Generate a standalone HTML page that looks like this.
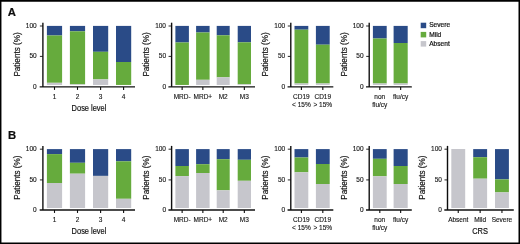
<!DOCTYPE html>
<html><head><meta charset="utf-8"><title>Figure</title>
<style>
html,body{margin:0;padding:0;background:#fff}
svg{display:block}
text.s{stroke:#111;stroke-width:0.12px}
text.m{stroke:#111;stroke-width:0.2px}
text.b{stroke:#111;stroke-width:0.18px}
text{font-family:"Liberation Sans",sans-serif;fill:#111}
</style></head><body>
<svg width="520" height="244" viewBox="0 0 520 244">
<defs><filter id="soft" x="0" y="0" width="520" height="244" filterUnits="userSpaceOnUse"><feGaussianBlur stdDeviation="0.3"/></filter></defs>
<rect width="520" height="244" fill="#fff"/>
<g filter="url(#soft)">
<text x="7.8" y="16.1" font-size="11.3" font-weight="bold" class="m">A</text>
<text x="7.9" y="139.1" font-size="11.3" font-weight="bold" class="m">B</text>
<rect x="46.9" y="25.9" width="15.2" height="9.60" fill="#2a4c87"/>
<rect x="46.9" y="35.5" width="15.2" height="47.30" fill="#66ab3c"/>
<rect x="46.9" y="82.8" width="15.2" height="2.15" fill="#c6c6cc"/>
<rect x="69.9" y="25.9" width="15.2" height="5.40" fill="#2a4c87"/>
<rect x="69.9" y="31.3" width="15.2" height="53.00" fill="#66ab3c"/>
<rect x="69.9" y="84.3" width="15.2" height="0.65" fill="#c6c6cc"/>
<rect x="93" y="25.9" width="15.2" height="25.90" fill="#2a4c87"/>
<rect x="93" y="51.8" width="15.2" height="27.60" fill="#66ab3c"/>
<rect x="93" y="79.4" width="15.2" height="5.55" fill="#c6c6cc"/>
<rect x="116" y="25.9" width="15.2" height="36.10" fill="#2a4c87"/>
<rect x="116" y="62" width="15.2" height="22.95" fill="#66ab3c"/>
<path d="M42.9 22.7V86.9" stroke="#111" stroke-width="1.4" fill="none"/>
<path d="M39.699999999999996 86.9H135" stroke="#111" stroke-width="1.4" fill="none"/>
<path d="M39.9 26.0H42.9" stroke="#111" stroke-width="0.9" fill="none"/>
<path d="M39.9 56.4H42.9" stroke="#111" stroke-width="0.9" fill="none"/>
<text x="36.699999999999996" y="28.00" font-size="6.5" text-anchor="end" class="s">100</text>
<text x="36.699999999999996" y="58.40" font-size="6.5" text-anchor="end" class="s">50</text>
<text x="36.699999999999996" y="88.90" font-size="6.5" text-anchor="end" class="s">0</text>
<path d="M54.5 86.9V89.9" stroke="#111" stroke-width="1.1" fill="none"/>
<text x="54.5" y="99.10" font-size="6.5" text-anchor="middle" class="s">1</text>
<path d="M77.5 86.9V89.9" stroke="#111" stroke-width="1.1" fill="none"/>
<text x="77.5" y="99.10" font-size="6.5" text-anchor="middle" class="s">2</text>
<path d="M100.6 86.9V89.9" stroke="#111" stroke-width="1.1" fill="none"/>
<text x="100.6" y="99.10" font-size="6.5" text-anchor="middle" class="s">3</text>
<path d="M123.6 86.9V89.9" stroke="#111" stroke-width="1.1" fill="none"/>
<text x="123.6" y="99.10" font-size="6.5" text-anchor="middle" class="s">4</text>
<text transform="translate(20.4 54.50000000000001) rotate(-90) scale(0.98 1)" font-size="8.3" text-anchor="middle" class="b">Patients (%)</text>
<text transform="translate(89 111.1) scale(0.9 1)" font-size="8.3" text-anchor="middle" class="b">Dose level</text>
<rect x="175.4" y="25.9" width="13.5" height="16.60" fill="#2a4c87"/>
<rect x="175.4" y="42.5" width="13.5" height="42.45" fill="#66ab3c"/>
<rect x="196.1" y="25.9" width="13.5" height="6.60" fill="#2a4c87"/>
<rect x="196.1" y="32.5" width="13.5" height="47.30" fill="#66ab3c"/>
<rect x="196.1" y="79.8" width="13.5" height="5.15" fill="#c6c6cc"/>
<rect x="216.7" y="25.9" width="13.0" height="9.40" fill="#2a4c87"/>
<rect x="216.7" y="35.3" width="13.0" height="42.00" fill="#66ab3c"/>
<rect x="216.7" y="77.3" width="13.0" height="7.65" fill="#c6c6cc"/>
<rect x="237.7" y="25.9" width="13.3" height="16.40" fill="#2a4c87"/>
<rect x="237.7" y="42.3" width="13.3" height="42.00" fill="#66ab3c"/>
<rect x="237.7" y="84.3" width="13.3" height="0.65" fill="#c6c6cc"/>
<path d="M171.6 22.7V86.9" stroke="#111" stroke-width="1.4" fill="none"/>
<path d="M168.4 86.9H255" stroke="#111" stroke-width="1.4" fill="none"/>
<path d="M168.6 26.0H171.6" stroke="#111" stroke-width="0.9" fill="none"/>
<path d="M168.6 56.4H171.6" stroke="#111" stroke-width="0.9" fill="none"/>
<text x="166.0" y="28.00" font-size="6.5" text-anchor="end" class="s">100</text>
<text x="166.0" y="58.40" font-size="6.5" text-anchor="end" class="s">50</text>
<text x="166.0" y="88.90" font-size="6.5" text-anchor="end" class="s">0</text>
<path d="M182.15 86.9V89.9" stroke="#111" stroke-width="1.1" fill="none"/>
<text x="182.15" y="99.10" font-size="6.5" text-anchor="middle" class="s">MRD-</text>
<path d="M202.85 86.9V89.9" stroke="#111" stroke-width="1.1" fill="none"/>
<text x="202.85" y="99.10" font-size="6.5" text-anchor="middle" class="s">MRD+</text>
<path d="M223.2 86.9V89.9" stroke="#111" stroke-width="1.1" fill="none"/>
<text x="223.2" y="99.10" font-size="6.5" text-anchor="middle" class="s">M2</text>
<path d="M244.35 86.9V89.9" stroke="#111" stroke-width="1.1" fill="none"/>
<text x="244.35" y="99.10" font-size="6.5" text-anchor="middle" class="s">M3</text>
<text transform="translate(148.70000000000002 54.50000000000001) rotate(-90) scale(0.98 1)" font-size="8.3" text-anchor="middle" class="b">Patients (%)</text>
<rect x="294.5" y="25.9" width="13.8" height="3.80" fill="#2a4c87"/>
<rect x="294.5" y="29.7" width="13.8" height="53.80" fill="#66ab3c"/>
<rect x="294.5" y="83.5" width="13.8" height="1.45" fill="#c6c6cc"/>
<rect x="315.9" y="25.9" width="13.8" height="18.80" fill="#2a4c87"/>
<rect x="315.9" y="44.7" width="13.8" height="38.80" fill="#66ab3c"/>
<rect x="315.9" y="83.5" width="13.8" height="1.45" fill="#c6c6cc"/>
<path d="M290.8 22.7V86.9" stroke="#111" stroke-width="1.4" fill="none"/>
<path d="M287.6 86.9H333.3" stroke="#111" stroke-width="1.4" fill="none"/>
<path d="M287.8 26.0H290.8" stroke="#111" stroke-width="0.9" fill="none"/>
<path d="M287.8 56.4H290.8" stroke="#111" stroke-width="0.9" fill="none"/>
<text x="285.2" y="28.00" font-size="6.5" text-anchor="end" class="s">100</text>
<text x="285.2" y="58.40" font-size="6.5" text-anchor="end" class="s">50</text>
<text x="285.2" y="88.90" font-size="6.5" text-anchor="end" class="s">0</text>
<path d="M301.4 86.9V89.9" stroke="#111" stroke-width="1.1" fill="none"/>
<text x="301.4" y="99.10" font-size="6.5" text-anchor="middle" class="s">CD19</text>
<text x="301.4" y="107.30" font-size="6.5" text-anchor="middle" class="s">&lt; 15%</text>
<path d="M322.79999999999995 86.9V89.9" stroke="#111" stroke-width="1.1" fill="none"/>
<text x="322.79999999999995" y="99.10" font-size="6.5" text-anchor="middle" class="s">CD19</text>
<text x="322.79999999999995" y="107.30" font-size="6.5" text-anchor="middle" class="s">&gt; 15%</text>
<text transform="translate(268.4 54.50000000000001) rotate(-90) scale(0.98 1)" font-size="8.3" text-anchor="middle" class="b">Patients (%)</text>
<rect x="372.9" y="25.9" width="13.8" height="12.60" fill="#2a4c87"/>
<rect x="372.9" y="38.5" width="13.8" height="45.00" fill="#66ab3c"/>
<rect x="372.9" y="83.5" width="13.8" height="1.45" fill="#c6c6cc"/>
<rect x="393.6" y="25.9" width="14.1" height="17.10" fill="#2a4c87"/>
<rect x="393.6" y="43" width="14.1" height="40.50" fill="#66ab3c"/>
<rect x="393.6" y="83.5" width="14.1" height="1.45" fill="#c6c6cc"/>
<path d="M369.2 22.7V86.9" stroke="#111" stroke-width="1.4" fill="none"/>
<path d="M366.0 86.9H411.8" stroke="#111" stroke-width="1.4" fill="none"/>
<path d="M366.2 26.0H369.2" stroke="#111" stroke-width="0.9" fill="none"/>
<path d="M366.2 56.4H369.2" stroke="#111" stroke-width="0.9" fill="none"/>
<text x="363.59999999999997" y="28.00" font-size="6.5" text-anchor="end" class="s">100</text>
<text x="363.59999999999997" y="58.40" font-size="6.5" text-anchor="end" class="s">50</text>
<text x="363.59999999999997" y="88.90" font-size="6.5" text-anchor="end" class="s">0</text>
<path d="M379.79999999999995 86.9V89.9" stroke="#111" stroke-width="1.1" fill="none"/>
<text x="379.79999999999995" y="99.10" font-size="6.5" text-anchor="middle" class="s">non</text>
<text x="379.79999999999995" y="107.30" font-size="6.5" text-anchor="middle" class="s">flu/cy</text>
<path d="M400.65000000000003 86.9V89.9" stroke="#111" stroke-width="1.1" fill="none"/>
<text x="400.65000000000003" y="99.10" font-size="6.5" text-anchor="middle" class="s">flu/cy</text>
<text transform="translate(346.9 54.50000000000001) rotate(-90) scale(0.98 1)" font-size="8.3" text-anchor="middle" class="b">Patients (%)</text>
<rect x="420.7" y="22.70" width="5.5" height="5.5" fill="#2a4c87"/>
<text x="429.2" y="27.40" font-size="6.6" class="m">Severe</text>
<rect x="420.7" y="31.90" width="5.5" height="5.5" fill="#66ab3c"/>
<text x="429.2" y="36.60" font-size="6.6" class="m">Mild</text>
<rect x="420.7" y="41.10" width="5.5" height="5.5" fill="#c6c6cc"/>
<text x="429.2" y="45.80" font-size="6.6" class="m">Absent</text>
<rect x="46.9" y="149.1" width="15.2" height="5.00" fill="#2a4c87"/>
<rect x="46.9" y="154.1" width="15.2" height="28.90" fill="#66ab3c"/>
<rect x="46.9" y="183" width="15.2" height="25.00" fill="#c6c6cc"/>
<rect x="69.9" y="149.1" width="15.2" height="13.70" fill="#2a4c87"/>
<rect x="69.9" y="162.8" width="15.2" height="10.90" fill="#66ab3c"/>
<rect x="69.9" y="173.7" width="15.2" height="34.30" fill="#c6c6cc"/>
<rect x="93" y="149.1" width="15.2" height="26.80" fill="#2a4c87"/>
<rect x="93" y="175.9" width="15.2" height="32.10" fill="#c6c6cc"/>
<rect x="116" y="149.1" width="15.2" height="12.20" fill="#2a4c87"/>
<rect x="116" y="161.3" width="15.2" height="37.50" fill="#66ab3c"/>
<rect x="116" y="198.8" width="15.2" height="9.20" fill="#c6c6cc"/>
<path d="M42.9 145.9V209.95" stroke="#111" stroke-width="1.4" fill="none"/>
<path d="M39.699999999999996 209.95H135" stroke="#111" stroke-width="1.4" fill="none"/>
<path d="M39.9 149.2H42.9" stroke="#111" stroke-width="0.9" fill="none"/>
<path d="M39.9 179.9H42.9" stroke="#111" stroke-width="0.9" fill="none"/>
<text x="36.699999999999996" y="151.20" font-size="6.5" text-anchor="end" class="s">100</text>
<text x="36.699999999999996" y="181.90" font-size="6.5" text-anchor="end" class="s">50</text>
<text x="36.699999999999996" y="211.95" font-size="6.5" text-anchor="end" class="s">0</text>
<path d="M54.5 209.95V212.95" stroke="#111" stroke-width="1.1" fill="none"/>
<text x="54.5" y="222.15" font-size="6.5" text-anchor="middle" class="s">1</text>
<path d="M77.5 209.95V212.95" stroke="#111" stroke-width="1.1" fill="none"/>
<text x="77.5" y="222.15" font-size="6.5" text-anchor="middle" class="s">2</text>
<path d="M100.6 209.95V212.95" stroke="#111" stroke-width="1.1" fill="none"/>
<text x="100.6" y="222.15" font-size="6.5" text-anchor="middle" class="s">3</text>
<path d="M123.6 209.95V212.95" stroke="#111" stroke-width="1.1" fill="none"/>
<text x="123.6" y="222.15" font-size="6.5" text-anchor="middle" class="s">4</text>
<text transform="translate(20.4 177.62499999999997) rotate(-90) scale(0.98 1)" font-size="8.3" text-anchor="middle" class="b">Patients (%)</text>
<text transform="translate(89 234.1) scale(0.9 1)" font-size="8.3" text-anchor="middle" class="b">Dose level</text>
<rect x="175.4" y="149.1" width="13.5" height="16.90" fill="#2a4c87"/>
<rect x="175.4" y="166" width="13.5" height="10.10" fill="#66ab3c"/>
<rect x="175.4" y="176.1" width="13.5" height="31.90" fill="#c6c6cc"/>
<rect x="196.1" y="149.1" width="13.5" height="15.10" fill="#2a4c87"/>
<rect x="196.1" y="164.2" width="13.5" height="8.80" fill="#66ab3c"/>
<rect x="196.1" y="173" width="13.5" height="35.00" fill="#c6c6cc"/>
<rect x="216.7" y="149.1" width="13.0" height="10.10" fill="#2a4c87"/>
<rect x="216.7" y="159.2" width="13.0" height="31.10" fill="#66ab3c"/>
<rect x="216.7" y="190.3" width="13.0" height="17.70" fill="#c6c6cc"/>
<rect x="237.7" y="149.1" width="13.3" height="10.70" fill="#2a4c87"/>
<rect x="237.7" y="159.8" width="13.3" height="21.00" fill="#66ab3c"/>
<rect x="237.7" y="180.8" width="13.3" height="27.20" fill="#c6c6cc"/>
<path d="M171.6 145.9V209.95" stroke="#111" stroke-width="1.4" fill="none"/>
<path d="M168.4 209.95H255" stroke="#111" stroke-width="1.4" fill="none"/>
<path d="M168.6 149.2H171.6" stroke="#111" stroke-width="0.9" fill="none"/>
<path d="M168.6 179.9H171.6" stroke="#111" stroke-width="0.9" fill="none"/>
<text x="166.0" y="151.20" font-size="6.5" text-anchor="end" class="s">100</text>
<text x="166.0" y="181.90" font-size="6.5" text-anchor="end" class="s">50</text>
<text x="166.0" y="211.95" font-size="6.5" text-anchor="end" class="s">0</text>
<path d="M182.15 209.95V212.95" stroke="#111" stroke-width="1.1" fill="none"/>
<text x="182.15" y="222.15" font-size="6.5" text-anchor="middle" class="s">MRD-</text>
<path d="M202.85 209.95V212.95" stroke="#111" stroke-width="1.1" fill="none"/>
<text x="202.85" y="222.15" font-size="6.5" text-anchor="middle" class="s">MRD+</text>
<path d="M223.2 209.95V212.95" stroke="#111" stroke-width="1.1" fill="none"/>
<text x="223.2" y="222.15" font-size="6.5" text-anchor="middle" class="s">M2</text>
<path d="M244.35 209.95V212.95" stroke="#111" stroke-width="1.1" fill="none"/>
<text x="244.35" y="222.15" font-size="6.5" text-anchor="middle" class="s">M3</text>
<text transform="translate(148.70000000000002 177.62499999999997) rotate(-90) scale(0.98 1)" font-size="8.3" text-anchor="middle" class="b">Patients (%)</text>
<rect x="294.5" y="149.1" width="13.8" height="8.40" fill="#2a4c87"/>
<rect x="294.5" y="157.5" width="13.8" height="14.80" fill="#66ab3c"/>
<rect x="294.5" y="172.3" width="13.8" height="35.70" fill="#c6c6cc"/>
<rect x="315.9" y="149.1" width="13.8" height="14.90" fill="#2a4c87"/>
<rect x="315.9" y="164" width="13.8" height="20.00" fill="#66ab3c"/>
<rect x="315.9" y="184" width="13.8" height="24.00" fill="#c6c6cc"/>
<path d="M290.8 145.9V209.95" stroke="#111" stroke-width="1.4" fill="none"/>
<path d="M287.6 209.95H333.3" stroke="#111" stroke-width="1.4" fill="none"/>
<path d="M287.8 149.2H290.8" stroke="#111" stroke-width="0.9" fill="none"/>
<path d="M287.8 179.9H290.8" stroke="#111" stroke-width="0.9" fill="none"/>
<text x="285.2" y="151.20" font-size="6.5" text-anchor="end" class="s">100</text>
<text x="285.2" y="181.90" font-size="6.5" text-anchor="end" class="s">50</text>
<text x="285.2" y="211.95" font-size="6.5" text-anchor="end" class="s">0</text>
<path d="M301.4 209.95V212.95" stroke="#111" stroke-width="1.1" fill="none"/>
<text x="301.4" y="222.15" font-size="6.5" text-anchor="middle" class="s">CD19</text>
<text x="301.4" y="230.35" font-size="6.5" text-anchor="middle" class="s">&lt; 15%</text>
<path d="M322.79999999999995 209.95V212.95" stroke="#111" stroke-width="1.1" fill="none"/>
<text x="322.79999999999995" y="222.15" font-size="6.5" text-anchor="middle" class="s">CD19</text>
<text x="322.79999999999995" y="230.35" font-size="6.5" text-anchor="middle" class="s">&gt; 15%</text>
<text transform="translate(268.4 177.62499999999997) rotate(-90) scale(0.98 1)" font-size="8.3" text-anchor="middle" class="b">Patients (%)</text>
<rect x="372.9" y="149.1" width="13.8" height="9.70" fill="#2a4c87"/>
<rect x="372.9" y="158.8" width="13.8" height="17.50" fill="#66ab3c"/>
<rect x="372.9" y="176.3" width="13.8" height="31.70" fill="#c6c6cc"/>
<rect x="393.6" y="149.1" width="14.1" height="16.90" fill="#2a4c87"/>
<rect x="393.6" y="166" width="14.1" height="18.00" fill="#66ab3c"/>
<rect x="393.6" y="184" width="14.1" height="24.00" fill="#c6c6cc"/>
<path d="M369.2 145.9V209.95" stroke="#111" stroke-width="1.4" fill="none"/>
<path d="M366.0 209.95H411.8" stroke="#111" stroke-width="1.4" fill="none"/>
<path d="M366.2 149.2H369.2" stroke="#111" stroke-width="0.9" fill="none"/>
<path d="M366.2 179.9H369.2" stroke="#111" stroke-width="0.9" fill="none"/>
<text x="363.59999999999997" y="151.20" font-size="6.5" text-anchor="end" class="s">100</text>
<text x="363.59999999999997" y="181.90" font-size="6.5" text-anchor="end" class="s">50</text>
<text x="363.59999999999997" y="211.95" font-size="6.5" text-anchor="end" class="s">0</text>
<path d="M379.79999999999995 209.95V212.95" stroke="#111" stroke-width="1.1" fill="none"/>
<text x="379.79999999999995" y="222.15" font-size="6.5" text-anchor="middle" class="s">non</text>
<text x="379.79999999999995" y="230.35" font-size="6.5" text-anchor="middle" class="s">flu/cy</text>
<path d="M400.65000000000003 209.95V212.95" stroke="#111" stroke-width="1.1" fill="none"/>
<text x="400.65000000000003" y="222.15" font-size="6.5" text-anchor="middle" class="s">flu/cy</text>
<text transform="translate(346.9 177.62499999999997) rotate(-90) scale(0.98 1)" font-size="8.3" text-anchor="middle" class="b">Patients (%)</text>
<rect x="451.3" y="149" width="13.9" height="59.00" fill="#c6c6cc"/>
<rect x="473.2" y="149.1" width="13.9" height="8.10" fill="#2a4c87"/>
<rect x="473.2" y="157.2" width="13.9" height="21.50" fill="#66ab3c"/>
<rect x="473.2" y="178.7" width="13.9" height="29.30" fill="#c6c6cc"/>
<rect x="495" y="149.1" width="13.9" height="30.30" fill="#2a4c87"/>
<rect x="495" y="179.4" width="13.9" height="13.00" fill="#66ab3c"/>
<rect x="495" y="192.4" width="13.9" height="15.60" fill="#c6c6cc"/>
<path d="M447.5 145.9V209.95" stroke="#111" stroke-width="1.4" fill="none"/>
<path d="M444.3 209.95H513.8" stroke="#111" stroke-width="1.4" fill="none"/>
<path d="M444.5 149.2H447.5" stroke="#111" stroke-width="0.9" fill="none"/>
<path d="M444.5 179.9H447.5" stroke="#111" stroke-width="0.9" fill="none"/>
<text x="441.9" y="151.20" font-size="6.5" text-anchor="end" class="s">100</text>
<text x="441.9" y="181.90" font-size="6.5" text-anchor="end" class="s">50</text>
<text x="441.9" y="211.95" font-size="6.5" text-anchor="end" class="s">0</text>
<path d="M458.25 209.95V212.95" stroke="#111" stroke-width="1.1" fill="none"/>
<text x="458.25" y="222.15" font-size="6.5" text-anchor="middle" class="s">Absent</text>
<path d="M480.15 209.95V212.95" stroke="#111" stroke-width="1.1" fill="none"/>
<text x="480.15" y="222.15" font-size="6.5" text-anchor="middle" class="s">Mild</text>
<path d="M501.95 209.95V212.95" stroke="#111" stroke-width="1.1" fill="none"/>
<text x="501.95" y="222.15" font-size="6.5" text-anchor="middle" class="s">Severe</text>
<text transform="translate(425.2 177.62499999999997) rotate(-90) scale(0.98 1)" font-size="8.3" text-anchor="middle" class="b">Patients (%)</text>
<text transform="translate(480 234.1) scale(0.9 1)" font-size="8.3" text-anchor="middle" class="b">CRS</text>
</g>
<path d="M0.7 0V244" stroke="#000" stroke-width="1.5"/>
<path d="M0 0.85H520" stroke="#000" stroke-width="1.8"/>
<path d="M519.25 0V244" stroke="#000" stroke-width="1.5"/>
<path d="M0 243.2H520" stroke="#000" stroke-width="1.6"/>
</svg>
</body></html>
